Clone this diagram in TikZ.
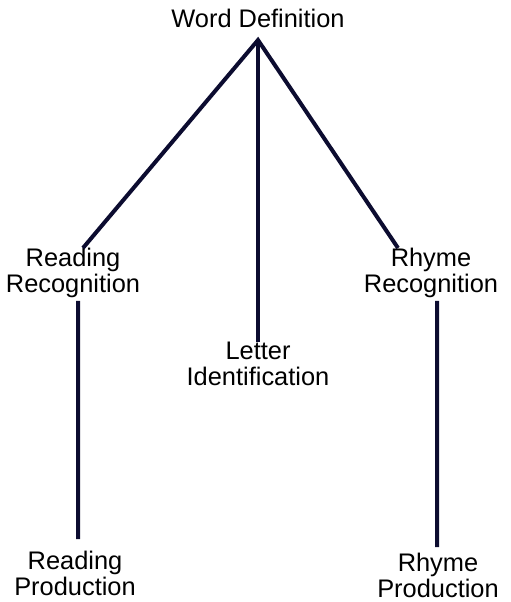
\documentclass[tikz,border=0pt]{standalone}
\usepackage{fontspec}
\setmainfont{Liberation Sans}
\definecolor{branchnavy}{RGB}{12,12,48}
\tikzset{
  skill/.style={inner sep=0pt, align=center, anchor=north,
    font=\fontsize{25.5}{26}\selectfont},
  branch/.style={line width=4bp, draw=branchnavy}
}
\begin{document}
\begin{tikzpicture}[x=1bp, y=-1bp]
    \useasboundingbox (0,0) rectangle (511,602);

    % Skill labels
    \node[skill] (wd)  at (258,9)   {Word Definition};
    \node[skill] (rr)  at (73,248)  {Reading\\Recognition};
    \node[skill] (li)  at (258,342) {Letter\\Identification};
    \node[skill] (rhr) at (431,248) {Rhyme\\Recognition};
    \node[skill] (rp)  at (75,551)  {Reading\\Production};
    \node[skill] (rhp) at (438,553) {Rhyme\\Production};

    % Apex under the top label
    \coordinate (apex) at ([yshift=-12bp]wd.south);

    % Branches from the top
    \draw[branch, line join=miter] ([xshift=10bp]rr.north) -- (apex) -- ([xshift=-33bp]rhr.north);
    \draw[branch] (apex) -- (li.north);

    % Recognition to production
    \draw[branch, shorten <=3bp, shorten >=12bp] ([xshift=5bp]rr.south) -- ([xshift=3bp]rp.north);
    \draw[branch, shorten <=3bp, shorten >=6bp] ([xshift=6bp]rhr.south) -- ([xshift=-1bp]rhp.north);

\end{tikzpicture}
\end{document}
